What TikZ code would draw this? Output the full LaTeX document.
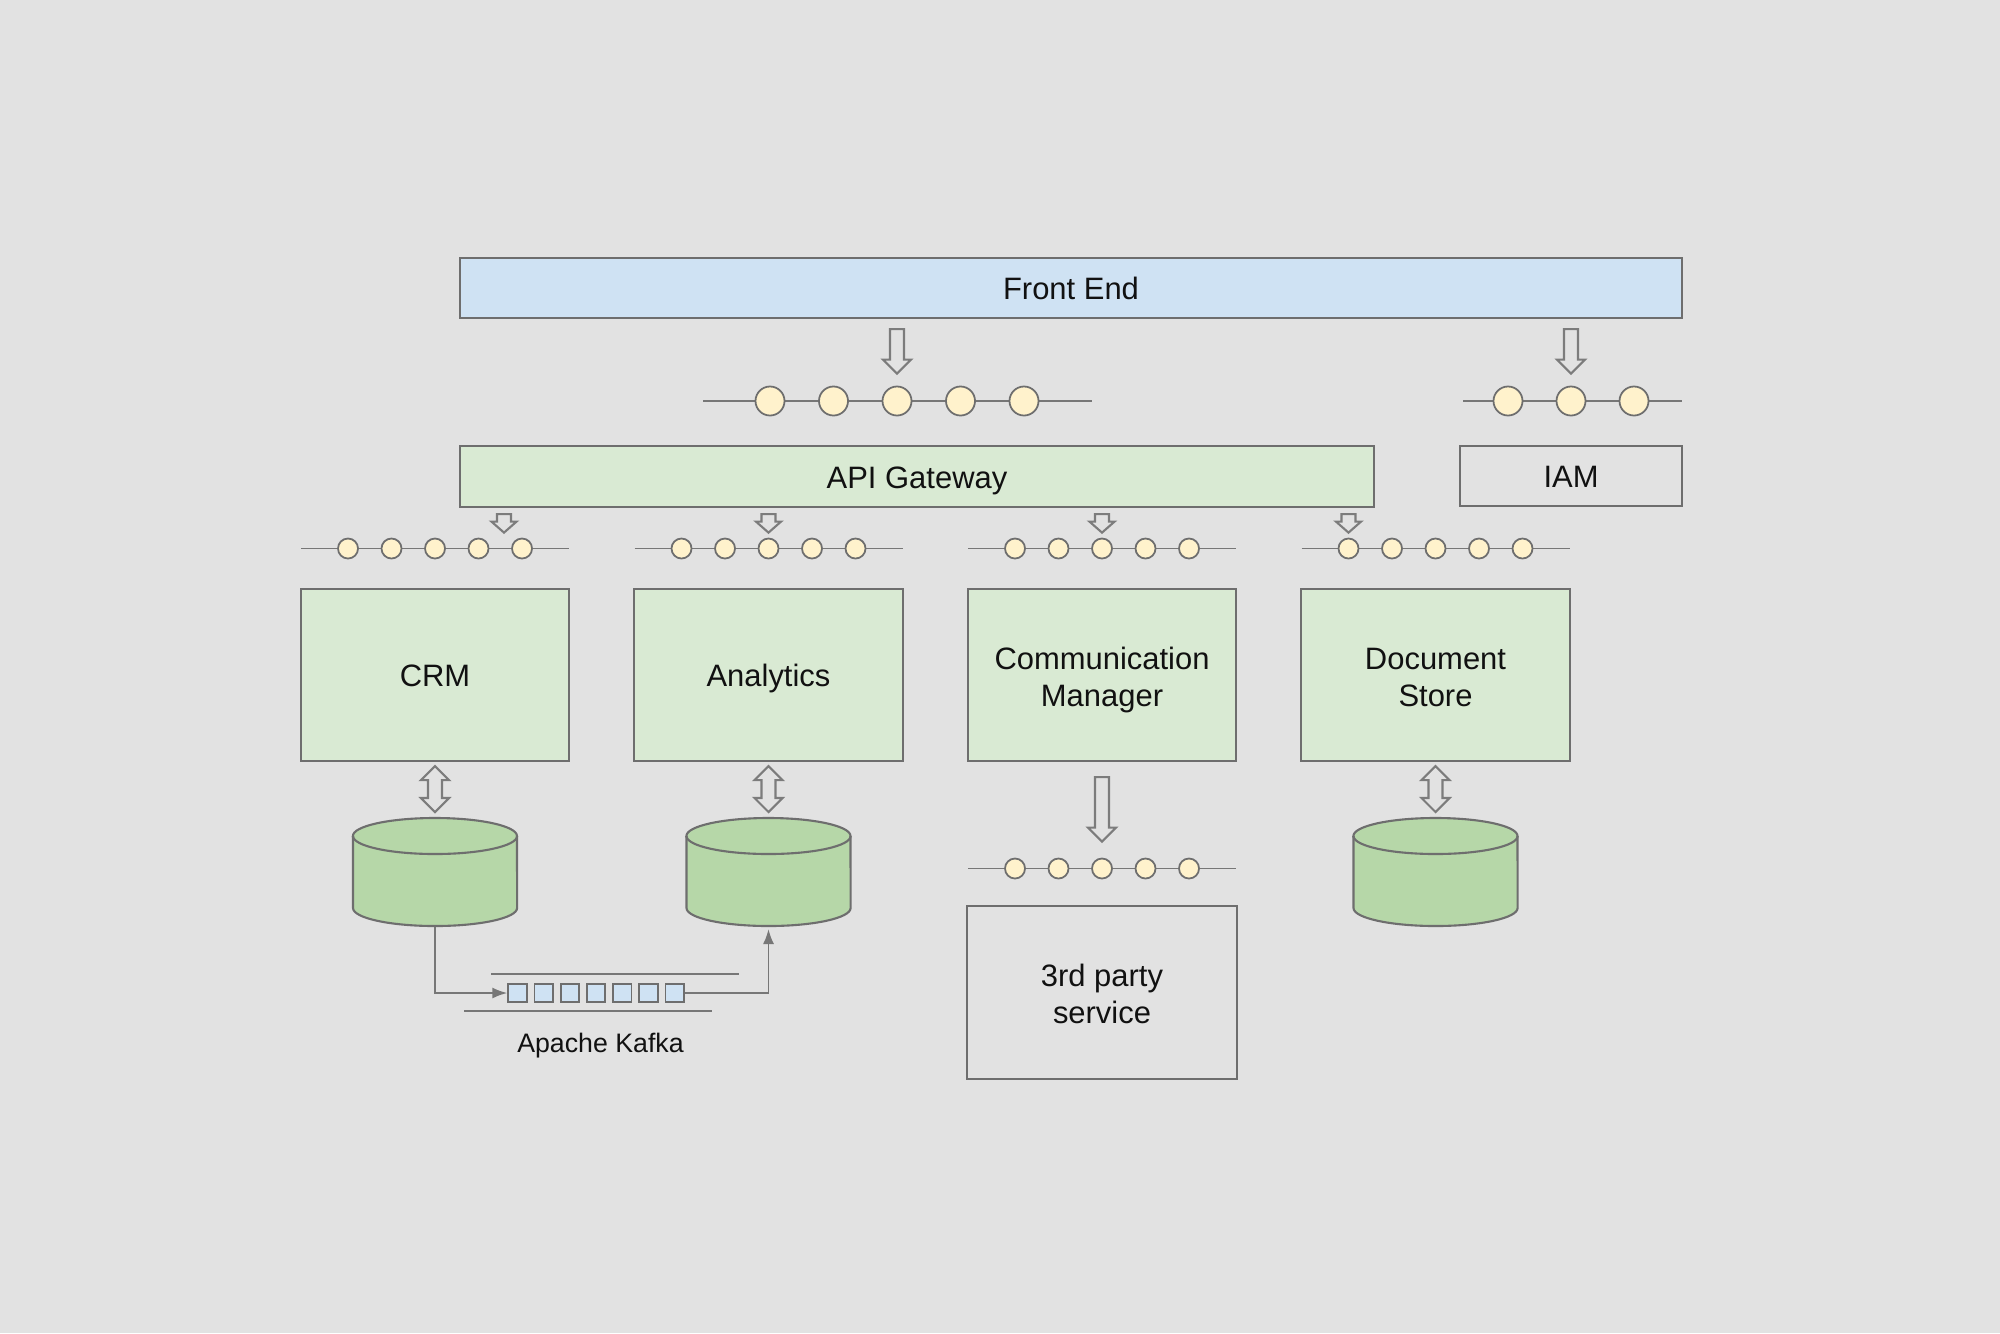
\documentclass[tikz,border=0pt]{standalone}
\usepackage{fontspec}
\setmainfont{Liberation Sans}
\usetikzlibrary{calc,arrows.meta}

\definecolor{bgc}{HTML}{E2E2E2}
\definecolor{feblue}{HTML}{CFE2F3}
\definecolor{boxgreen}{HTML}{D9EAD3}
\definecolor{dbgreen}{HTML}{B6D7A8}
\definecolor{dotfill}{HTML}{FFF2CC}
\definecolor{bordc}{HTML}{6E6E6E}
\definecolor{busc}{HTML}{777777}
\definecolor{agray}{HTML}{7C7C7C}
\definecolor{txtc}{HTML}{111111}

\newcommand\arsw{0.07cm}
\newcommand\arhw{0.14cm}
\newcommand\arhl{0.14cm}

\begin{document}
\begin{tikzpicture}[x=0.01cm,y=-0.01cm,
  box/.style={draw=bordc,line width=0.6pt,inner sep=0pt,align=center,text=txtc,
    text height=0.235cm,text depth=0pt,font=\fontsize{8.8}{10.5}\selectfont},
  twoline/.style={text height=0.62cm},
  svc/.style={box,fill=boxgreen,minimum width=2.68cm,minimum height=1.72cm},
  bus/.style={draw=busc,line width=0.55pt},
  bdot/.style={circle,draw=bordc,fill=dotfill,line width=0.5pt,inner sep=0pt,minimum size=0.29cm},
  sdot/.style={bdot,minimum size=0.2cm},
  kbox/.style={draw=bordc,fill=feblue,line width=0.5pt,inner sep=0pt,minimum size=0.185cm},
  kline/.style={draw=busc,line width=0.55pt},
  db/.style={draw=bordc,fill=dbgreen,line width=0.6pt},
  smallhead/.code={\def\arhw{0.125cm}\def\arhl{0.11cm}},
  hollowdown/.style={draw=agray,fill=bgc,line width=0.6pt,
    to path={let \p1=(\tikztostart),\p2=(\tikztotarget) in
      (\x1-\arsw,\y1) -- (\x1-\arsw,\y2+\arhl) -- (\x1-\arhw,\y2+\arhl) -- (\x1,\y2)
      -- (\x1+\arhw,\y2+\arhl) -- (\x1+\arsw,\y2+\arhl) -- (\x1+\arsw,\y1) -- cycle}},
  hollowboth/.style={draw=agray,fill=bgc,line width=0.6pt,
    to path={let \p1=(\tikztostart),\p2=(\tikztotarget) in
      (\x1,\y1) -- (\x1+\arhw,\y1-\arhl) -- (\x1+\arsw,\y1-\arhl) -- (\x1+\arsw,\y2+\arhl)
      -- (\x1+\arhw,\y2+\arhl) -- (\x1,\y2) -- (\x1-\arhw,\y2+\arhl) -- (\x1-\arsw,\y2+\arhl)
      -- (\x1-\arsw,\y1-\arhl) -- (\x1-\arhw,\y1-\arhl) -- cycle}},
  cyl/.pic={
    \draw[db] (-82,-36) -- (-82,36) arc[start angle=180,end angle=360,x radius=0.82cm,y radius=0.18cm]
      -- (82,-36) arc[start angle=0,end angle=180,x radius=0.82cm,y radius=0.18cm] -- cycle;
    \draw[bordc,line width=0.6pt] (-82,-36) arc[start angle=180,end angle=360,x radius=0.82cm,y radius=0.18cm];
  }]
\fill[bgc] (0,0) rectangle (2000,1333);

\node[box,fill=feblue,minimum width=12.22cm,minimum height=0.6cm] (fe) at (1071,288) {Front End};
\node[box,fill=boxgreen,minimum width=9.14cm,minimum height=0.61cm] (api) at (917,476.5) {API Gateway};
\node[box,minimum width=2.22cm,minimum height=0.6cm] (iam) at (1571,476) {IAM};

\coordinate (b0w) at (703,401);
\coordinate (b0e) at (1092,401);
\draw[bus] (b0w) -- (b0e);
\foreach \k in {1,...,5} \node[bdot] (b0\k) at (706.5+63.5*\k,401) {};
\coordinate (biw) at (1463,401);
\coordinate (bie) at (1682,401);
\draw[bus] (biw) -- (bie);
\foreach \k in {1,...,3} \node[bdot] (bi\k) at (1445+63*\k,401) {};

\foreach \n/\cx in {1/435,2/768.5,3/1102,4/1435.5} {
  \coordinate (b\n w) at (\cx-134,548.5);
  \coordinate (b\n e) at (\cx+134,548.5);
  \draw[bus] (b\n w) -- (b\n e);
  \foreach \k in {1,...,5} \node[sdot] (b\n\k) at (\cx+43.5*\k-130.5,548.5) {};
}

\node[svc] (crm) at (435,675) {CRM};
\node[svc] (ana) at (768.5,675) {Analytics};
\node[svc,twoline] (com) at (1102,675) {Communication\\Manager};
\node[svc,twoline] (doc) at (1435.5,675) {Document\\Store};

\coordinate (b5w) at (968,868.5);
\coordinate (b5e) at (1236,868.5);
\draw[bus] (b5w) -- (b5e);
\foreach \k in {1,...,5} \node[sdot] (b5\k) at (971.5+43.5*\k,868.5) {};
\node[box,twoline,minimum width=2.7cm,minimum height=1.73cm] (tp) at (1102,992.5) {3rd party\\service};

\pic at (435,872) {cyl};
\pic at (768.5,872) {cyl};
\pic at (1435.5,872) {cyl};
\coordinate (crmdbt) at (435,818);
\coordinate (crmdbb) at (435,927);
\coordinate (anadbt) at (768.5,818);
\coordinate (anadbb) at (768.5,929);
\coordinate (docdbt) at (1435.5,818);

\draw[hollowdown] ($(fe.south -| b03)+(0,10)$) to ($(b03.north)+(0,-12)$);
\draw[hollowdown] ($(fe.south -| bi2)+(0,10)$) to ($(bi2.north)+(0,-12)$);
\draw[hollowdown,smallhead] ($(api.south -| b14)+(25.5,6)$) to ($(b14.north)+(0,-5)$);
\draw[hollowdown,smallhead] ($(api.south -| b23)+(0,6)$) to ($(b23.north)+(0,-5)$);
\draw[hollowdown,smallhead] ($(api.south -| b33)+(0,6)$) to ($(b33.north)+(0,-5)$);
\draw[hollowdown,smallhead] ($(api.south -| b41)+(0,6)$) to ($(b41.north)+(0,-5)$);
\draw[hollowdown] ($(com.south)+(0,15)$) to ($(b53.north)+(0,-16)$);
\draw[hollowboth] ($(crm.south)+(0,4)$) to ($(crmdbt)+(0,-6)$);
\draw[hollowboth] ($(ana.south)+(0,4)$) to ($(anadbt)+(0,-6)$);
\draw[hollowboth] ($(doc.south)+(0,4)$) to ($(docdbt)+(0,-6)$);

\foreach \i in {1,...,7} \node[kbox] (k\i) at (491.3+26.2*\i,993) {};
\draw[kline] (491,974) -- (739,974);
\draw[kline] (464,1011) -- (712,1011);
\draw[kline,-{Latex[length=0.15cm,width=0.11cm]}] (crmdbb) |- (k1.west);
\draw[kline,-{Latex[length=0.15cm,width=0.11cm]}] (k7.east) -| (anadbb);
\node[text=txtc,text depth=0pt,font=\fontsize{7.6}{9}\selectfont] (kafka) at (600.5,1043) {Apache Kafka};
\end{tikzpicture}
\end{document}
